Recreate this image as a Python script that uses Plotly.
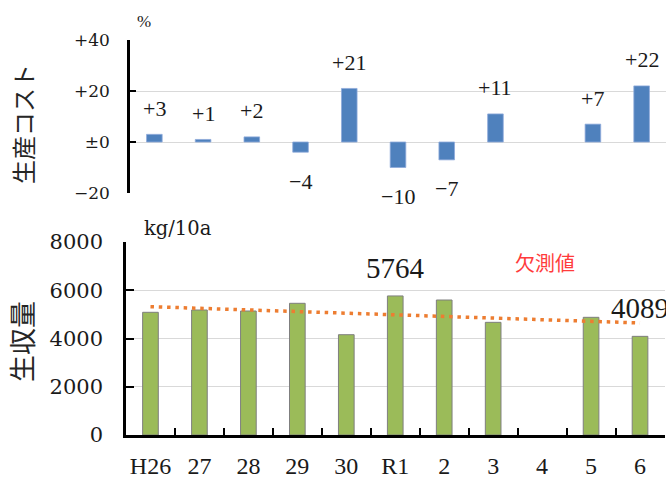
import numpy as np
import plotly.graph_objects as go

# 年度ラベル
years = ["H26", "27", "28", "29", "30", "R1", "2", "3", "4", "5", "6"]

# 生産コストの増減率（%）。R4 は欠測
cost_change = [3, 1, 2, -4, 21, -10, -7, 11, None, 7, 22]

# 生収量（kg/10a）。R4 は欠測
raw_yield = [5086, 5181, 5140, 5459, 4158, 5764, 5596, 4670, None, 4878, 4089]

# 生収量のうち数値を表示する年度
yield_labeled = ["R1", "6"]

# 上段の目盛
cost_tickvals = [-20, 0, 20, 40]
cost_ticktext = ["−20", "±0", "+20", "+40"]

W, H = 666, 478
TXT = "#1a1a1a"
SERIF = "Liberation Serif"
WIDE_SERIF = "DejaVu Serif"
CJK = "Noto Sans CJK JP"


def fmt_change(v):
    if v > 0:
        return f"+{v}"
    if v < 0:
        return f"−{abs(v)}"
    return "±0"


fig = go.Figure()

# 上段：生産コスト増減率
fig.add_trace(go.Bar(
    x=years, y=cost_change, width=0.32,
    marker=dict(color="#4F81BD", line=dict(color="#8EAADB", width=0.8)),
    xaxis="x", yaxis="y", hoverinfo="x+y",
))

# 下段：生収量
fig.add_trace(go.Bar(
    x=years, y=raw_yield, width=0.32,
    marker=dict(color="#9BBB59", line=dict(color="#7F7F7F", width=1)),
    xaxis="x2", yaxis="y2", hoverinfo="x+y",
))

# 生収量の線形近似（欠測年を除く）
idx = np.array([i for i, v in enumerate(raw_yield) if v is not None], dtype=float)
vals = np.array([v for v in raw_yield if v is not None], dtype=float)
slope, intercept = np.polyfit(idx, vals, 1)
ends = [0, len(years) - 1]
fig.add_trace(go.Scatter(
    x=[years[i] for i in ends],
    y=[intercept + slope * i for i in ends],
    mode="lines",
    line=dict(color="#ED7D31", width=3.5, dash="3.5px,4.8px"),
    xaxis="x2", yaxis="y2", hoverinfo="skip",
))

annotations = []

# 上段のデータラベル（カテゴリ位置は番号で指定）
for i, v in enumerate(cost_change):
    if v is None:
        continue
    annotations.append(dict(
        x=i, y=v, xref="x", yref="y", text=fmt_change(v), showarrow=False,
        yshift=26 if v > 0 else -29,
        font=dict(family=SERIF, size=22, color=TXT),
    ))

# 下段のデータラベル
for i, (yr, v) in enumerate(zip(years, raw_yield)):
    if yr in yield_labeled and v is not None:
        annotations.append(dict(
            x=i, y=v, xref="x2", yref="y2", text=str(v), showarrow=False,
            yshift=28, font=dict(family=SERIF, size=29, color=TXT),
        ))

# 欠測の注記
annotations.append(dict(
    x=years.index("4"), y=7170, xref="x2", yref="y2", text="欠測値",
    showarrow=False, xshift=3,
    font=dict(family=CJK, size=20, color="#FF3B3B"),
))


def paper_text(px, py, text, font, angle=0):
    return dict(
        x=px / W, y=1 - py / H, xref="paper", yref="paper", text=text,
        xanchor="center", yanchor="middle", textangle=angle,
        showarrow=False, font=font,
    )


# 単位
annotations.append(paper_text(143.5, 22, "%", dict(family=SERIF, size=17, color=TXT)))
annotations.append(paper_text(178, 228, "kg/10a", dict(family=WIDE_SERIF, size=19.5, color=TXT)))

# 縦軸タイトル
annotations.append(paper_text(22, 124, "生産コスト",
                              dict(family=CJK, size=24, color="#262626"), angle=-90))
annotations.append(paper_text(21, 341, "生収量",
                              dict(family=CJK, size=27, color="#262626"), angle=-90))

axis_line = dict(showline=True, linecolor="black", linewidth=2.5)

fig.update_layout(
    width=W, height=H,
    margin=dict(l=0, r=0, t=0, b=0, autoexpand=False),
    paper_bgcolor="white", plot_bgcolor="white",
    showlegend=False,
    annotations=annotations,
    xaxis=dict(
        domain=[130 / W, 1.0], type="category", categoryorder="array",
        categoryarray=years, range=[-0.5, 10.5], anchor="y",
        showline=False, showgrid=False, showticklabels=False, ticks="",
        zeroline=False, fixedrange=True, automargin=False,
    ),
    yaxis=dict(
        domain=[(H - 193) / H, (H - 40) / H], range=[-20, 40], anchor="x",
        tickvals=cost_tickvals, ticktext=cost_ticktext,
        showgrid=True, gridcolor="#d9d9d9", gridwidth=1, zeroline=False,
        ticks="inside", ticklen=6, tickwidth=2, tickcolor="black",
        ticklabelstandoff=14, automargin=False,
        tickfont=dict(family=WIDE_SERIF, size=17, color=TXT),
        **axis_line,
    ),
    xaxis2=dict(
        domain=[126 / W, 664.5 / W], type="category", categoryorder="array",
        categoryarray=years, range=[-0.5, 10.5], anchor="y2",
        showgrid=False, zeroline=False, tickangle=0, automargin=False,
        ticks="inside", tickson="boundaries", ticklen=7, tickwidth=2,
        tickcolor="black", ticklabelstandoff=7,
        tickfont=dict(family=SERIF, size=24, color=TXT),
        **axis_line,
    ),
    yaxis2=dict(
        domain=[(H - 435) / H, (H - 242) / H], range=[0, 8000], anchor="x2",
        tickvals=[0, 2000, 4000, 6000, 8000],
        showgrid=True, gridcolor="#d9d9d9", gridwidth=1, zeroline=False,
        ticks="inside", ticklen=8, tickwidth=2, tickcolor="black",
        ticklabelstandoff=16, automargin=False,
        tickfont=dict(family=WIDE_SERIF, size=21, color=TXT),
        **axis_line,
    ),
)

fig.write_html("out.html")
